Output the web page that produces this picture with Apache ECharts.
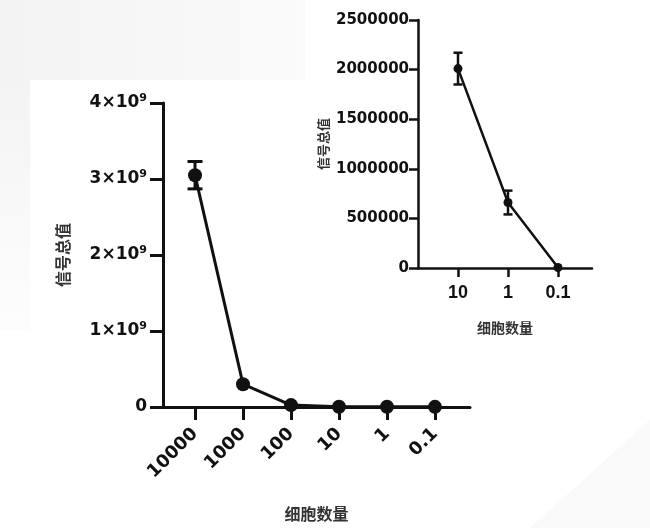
<!DOCTYPE html>
<html>
<head>
<meta charset="utf-8">
<script src="https://cdn.jsdelivr.net/npm/echarts@6/dist/echarts.min.js"></script>
<style>
html,body{margin:0;padding:0;background:#fff;}
#chart{width:650px;height:528px;}
</style>
</head>
<body>
<div id="chart"></div>
<script>
// ---- data ----
const mainCategories = ['10000', '1000', '100', '10', '1', '0.1'];
const mainValues = [3.05e9, 0.30e9, 0.025e9, 0.004e9, 0.003e9, 0.002e9];
const mainErrors = [0.18e9, 0.01e9, 0, 0, 0, 0];
const mainYTicks = [0, 1e9, 2e9, 3e9, 4e9];

const insetCategories = ['10', '1', '0.1'];
const insetValues = [2010000, 660000, 5000];
const insetErrors = [160000, 120000, 0];
const insetYTicks = [0, 500000, 1000000, 1500000, 2000000, 2500000];

const axisName = '细胞数量';
const valueName = '信号总值';

// ---- build ----
const NUM_FONT = 'DejaVu Sans';
const CJK_FONT = '"Noto Sans CJK SC"';
const ink = '#111';

const mainIdx = mainCategories.map((c, i) => i);
const insetIdx = insetCategories.map((c, i) => i);

function errorItem(capW, lw) {
  return function (params, api) {
    const x = api.value(0), lo = api.value(1), hi = api.value(2);
    const pLo = api.coord([x, lo]);
    const pHi = api.coord([x, hi]);
    const st = { stroke: ink, lineWidth: lw };
    return {
      type: 'group',
      children: [
        { type: 'line', shape: { x1: pLo[0], y1: pLo[1], x2: pHi[0], y2: pHi[1] }, style: st },
        { type: 'line', shape: { x1: pHi[0] - capW / 2, y1: pHi[1], x2: pHi[0] + capW / 2, y2: pHi[1] }, style: st },
        { type: 'line', shape: { x1: pLo[0] - capW / 2, y1: pLo[1], x2: pLo[0] + capW / 2, y2: pLo[1] }, style: st }
      ]
    };
  };
}

const chart = echarts.init(document.getElementById('chart'), null, { renderer: 'canvas' });

const option = {
  backgroundColor: '#ffffff',
  animation: false,
  graphic: [
    { type: 'rect', z: -10, shape: { x: 0, y: 0, width: 305, height: 80 },
      style: { fill: new echarts.graphic.LinearGradient(0, 0, 1, 0, [{ offset: 0, color: '#f3f3f3' }, { offset: 1, color: '#fafafa' }]) } },
    { type: 'rect', z: -10, shape: { x: 0, y: 80, width: 30, height: 250 },
      style: { fill: new echarts.graphic.LinearGradient(0, 0, 0, 1, [{ offset: 0, color: '#f3f3f3' }, { offset: 1, color: '#fdfdfd' }]) } },
    { type: 'polygon', z: -10, shape: { points: [[530, 528], [650, 420], [650, 528]] },
      style: { fill: '#f9f9f9' } }
  ],
  grid: [
    { left: 163, right: 180, top: 103, bottom: 121, containLabel: false },
    { left: 418, right: 58, top: 20, bottom: 260, containLabel: false }
  ],
  xAxis: [
    {
      gridIndex: 0, type: 'value', min: -0.667, max: 5.73,
      splitLine: { show: false },
      axisLine: { show: true, onZero: false, lineStyle: { color: ink, width: 3 } },
      axisTick: { show: true, customValues: mainIdx, length: 13, lineStyle: { color: ink, width: 3 } },
      axisLabel: {
        customValues: mainIdx, rotate: 45, margin: 24,
        formatter: v => mainCategories[Math.round(v)],
        color: ink, fontFamily: NUM_FONT, fontWeight: 'bold', fontSize: 18
      },
      name: axisName, nameLocation: 'middle', nameGap: 99,
      nameTextStyle: { fontFamily: CJK_FONT, fontWeight: 'bold', fontSize: 16, color: '#333' }
    },
    {
      gridIndex: 1, type: 'value', min: -0.8, max: 2.68,
      splitLine: { show: false },
      axisLine: { show: true, onZero: false, lineStyle: { color: ink, width: 2.5 } },
      axisTick: { show: true, customValues: insetIdx, length: 9, lineStyle: { color: ink, width: 2.5 } },
      axisLabel: {
        customValues: insetIdx, margin: 16,
        formatter: v => insetCategories[Math.round(v)],
        color: ink, fontFamily: 'Liberation Sans', fontWeight: 'bold', fontSize: 18
      },
      name: axisName, nameLocation: 'middle', nameGap: 53,
      nameTextStyle: { fontFamily: CJK_FONT, fontWeight: 'bold', fontSize: 14, color: '#333' }
    }
  ],
  yAxis: [
    {
      gridIndex: 0, type: 'value', min: 0, max: 4e9, interval: 1e9,
      splitLine: { show: false },
      axisLine: { show: true, onZero: false, lineStyle: { color: ink, width: 3 } },
      axisTick: { show: true, length: 13, lineStyle: { color: ink, width: 3 } },
      axisLabel: {
        margin: 16, color: ink,
        customValues: mainYTicks,
        formatter: v => v === 0 ? '{a|0}' : '{a|' + Math.round(v / 1e9) + '×10}{s|9}',
        rich: {
          a: { fontFamily: NUM_FONT, fontWeight: 'bold', fontSize: 17, color: ink },
          s: { fontFamily: NUM_FONT, fontWeight: 'bold', fontSize: 11, color: ink, padding: [0, 0, 9, 0] }
        }
      },
      name: valueName, nameLocation: 'middle', nameGap: 92, nameRotate: 90,
      nameTextStyle: { fontFamily: CJK_FONT, fontWeight: 'bold', fontSize: 16, color: '#333' }
    },
    {
      gridIndex: 1, type: 'value', min: 0, max: 2500000, interval: 500000,
      splitLine: { show: false },
      axisLine: { show: true, onZero: false, lineStyle: { color: ink, width: 2.5 } },
      axisTick: { show: true, length: 9, lineStyle: { color: ink, width: 2.5 } },
      axisLabel: {
        margin: 9, color: ink, customValues: insetYTicks,
        fontFamily: NUM_FONT, fontWeight: 'bold', fontSize: 15,
        formatter: v => String(v)
      },
      name: valueName, nameLocation: 'middle', nameGap: 88, nameRotate: 90,
      nameTextStyle: { fontFamily: CJK_FONT, fontWeight: 'bold', fontSize: 13, color: '#333' }
    }
  ],
  series: [
    {
      type: 'line', xAxisIndex: 0, yAxisIndex: 0,
      data: mainValues.map((v, i) => [i, v]),
      symbol: 'circle', symbolSize: 14,
      lineStyle: { color: ink, width: 3 },
      itemStyle: { color: ink },
      z: 5
    },
    {
      type: 'custom', xAxisIndex: 0, yAxisIndex: 0,
      data: mainValues.map((v, i) => [i, v - mainErrors[i], v + mainErrors[i]]).filter((d, i) => mainErrors[i] > 0.05e9),
      renderItem: errorItem(15, 3), clip: false, z: 6
    },
    {
      type: 'line', xAxisIndex: 1, yAxisIndex: 1,
      data: insetValues.map((v, i) => [i, v]),
      symbol: 'circle', symbolSize: 9,
      lineStyle: { color: ink, width: 2.5 },
      itemStyle: { color: ink },
      z: 5
    },
    {
      type: 'custom', xAxisIndex: 1, yAxisIndex: 1,
      data: insetValues.map((v, i) => [i, v - insetErrors[i], v + insetErrors[i]]).filter((d, i) => insetErrors[i] > 0),
      renderItem: errorItem(9, 2.5), clip: false, z: 6
    }
  ]
};
chart.setOption(option);
</script>
</body>
</html>
